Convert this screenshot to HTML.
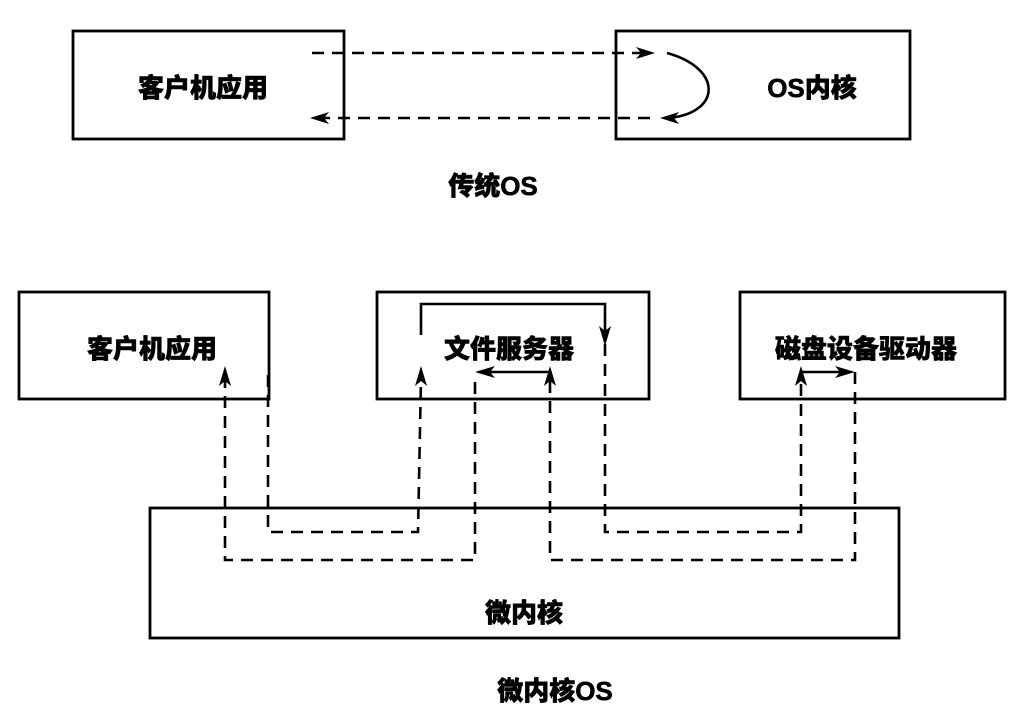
<!DOCTYPE html>
<html><head><meta charset="utf-8"><style>
html,body{margin:0;padding:0;background:#fff;}
svg{display:block;}
text{font-family:"Liberation Sans","Noto Sans CJK SC",sans-serif;font-weight:900;font-size:26px;fill:#000;stroke:#000;stroke-width:0.6;}
</style></head><body>
<svg width="1027" height="720" viewBox="0 0 1027 720" xmlns="http://www.w3.org/2000/svg">
<g fill="none" stroke="#000" stroke-width="2.8">
<rect x="73" y="31" width="271" height="108"/>
<rect x="616" y="31" width="294" height="108"/>
<rect x="19" y="292" width="250" height="107"/>
<rect x="377" y="292" width="272" height="107"/>
<rect x="740" y="292" width="265" height="107"/>
<rect x="150" y="508" width="749" height="130"/>
</g>
<g fill="none" stroke="#000" stroke-width="2.6" stroke-dasharray="12,8">
<path d="M312,53 L645,53"/>
<path d="M650,118 L320,118"/>
<path d="M268,375 L268,532 L418,532 L421,378"/>
<path d="M475,382 L475,560 L225,560 L225,378"/>
<path d="M855,372 L855,560 L550,560 L550,378"/>
<path d="M605,344 L605,532 L801,532 L801,378"/>
</g>
<g fill="none" stroke="#000" stroke-width="2.6">
<path d="M667,53 C722,68 722,112 670,118"/>
<path d="M421,335 L421,304 L605,304 L605,334"/>
<path d="M550,372 L485,372"/>
<path d="M801,378 L801,372 L845,372"/>
</g>
<g fill="#000" stroke="none">
<polygon points="655,53 636,47 641,53 636,59"/>
<polygon points="310,118 329,112 324,118 329,124"/>
<polygon points="660,118 679,112 674,118 679,124"/>
<polygon points="225,366 219,386 225,381 231,386"/>
<polygon points="421,366 415,386 421,381 427,386"/>
<polygon points="550,366 544,386 550,381 556,386"/>
<polygon points="801,366 795,386 801,381 807,386"/>
<polygon points="605,346 599,326 605,331 611,326"/>
<polygon points="475,372 495,366 490,372 495,378"/>
<polygon points="855,372 835,366 840,372 835,378"/>
</g>
<text x="203" y="97" text-anchor="middle">客户机应用</text>
<text x="812" y="97" text-anchor="middle">OS内核</text>
<text x="493" y="195" text-anchor="middle">传统OS</text>
<text x="152" y="358" text-anchor="middle">客户机应用</text>
<text x="509" y="358" text-anchor="middle">文件服务器</text>
<text x="866" y="358" text-anchor="middle">磁盘设备驱动器</text>
<text x="524" y="622" text-anchor="middle">微内核</text>
<text x="555" y="700" text-anchor="middle">微内核OS</text>
</svg>
</body></html>
